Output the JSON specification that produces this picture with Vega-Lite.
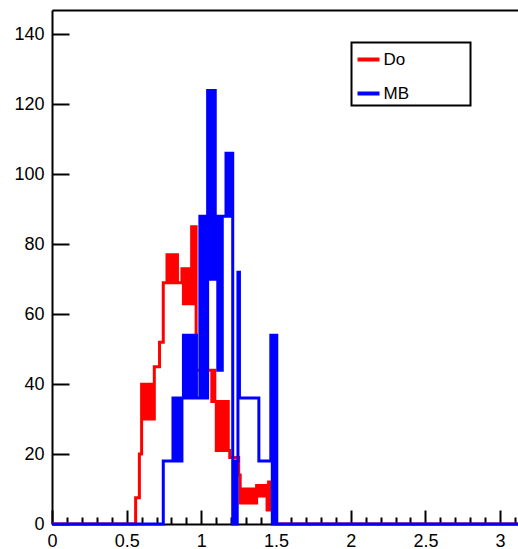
{
  "$schema": "https://vega.github.io/schema/vega-lite/v6.json",
  "width": 466,
  "height": 514,
  "autosize": {"type": "none"},
  "padding": {"left": 52, "top": 10, "right": 0, "bottom": 25},
  "background": "white",
  "view": {"stroke": null},
  "config": {
    "font": "Liberation Sans",
    "axis": {"labelFont": "Liberation Sans", "labelFontSize": 18, "labelColor": "black", "domainColor": "black", "domainWidth": 2, "tickColor": "black", "tickWidth": 2, "grid": false, "labelFlush": false, "labelOverlap": false},
    "legend": {"strokeColor": "black", "strokeWidth": 2, "fillColor": "white"}
  },
  "datasets": {
    "hist": [
      {"series": "Do", "x": 0, "y": 0}, {"series": "Do", "x": 0.56, "y": 7.5}, {"series": "Do", "x": 0.585, "y": 20},
      {"series": "Do", "x": 0.6, "y": 40}, {"series": "Do", "x": 0.61, "y": 30}, {"series": "Do", "x": 0.62, "y": 40}, {"series": "Do", "x": 0.63, "y": 30},
      {"series": "Do", "x": 0.64, "y": 40}, {"series": "Do", "x": 0.65, "y": 30}, {"series": "Do", "x": 0.66, "y": 40}, {"series": "Do", "x": 0.67, "y": 30},
      {"series": "Do", "x": 0.685, "y": 45}, {"series": "Do", "x": 0.72, "y": 52}, {"series": "Do", "x": 0.745, "y": 69},
      {"series": "Do", "x": 0.77, "y": 77}, {"series": "Do", "x": 0.78, "y": 69}, {"series": "Do", "x": 0.79, "y": 77}, {"series": "Do", "x": 0.8, "y": 69},
      {"series": "Do", "x": 0.81, "y": 77}, {"series": "Do", "x": 0.82, "y": 69}, {"series": "Do", "x": 0.83, "y": 77}, {"series": "Do", "x": 0.84, "y": 69},
      {"series": "Do", "x": 0.87, "y": 73}, {"series": "Do", "x": 0.88, "y": 63}, {"series": "Do", "x": 0.89, "y": 73}, {"series": "Do", "x": 0.9, "y": 63},
      {"series": "Do", "x": 0.91, "y": 73}, {"series": "Do", "x": 0.92, "y": 63}, {"series": "Do", "x": 0.93, "y": 73},
      {"series": "Do", "x": 0.935, "y": 85}, {"series": "Do", "x": 0.945, "y": 63}, {"series": "Do", "x": 0.955, "y": 85},
      {"series": "Do", "x": 0.965, "y": 44}, {"series": "Do", "x": 1.07, "y": 35}, {"series": "Do", "x": 1.08, "y": 44}, {"series": "Do", "x": 1.09, "y": 35},
      {"series": "Do", "x": 1.1, "y": 21}, {"series": "Do", "x": 1.11, "y": 35}, {"series": "Do", "x": 1.12, "y": 21}, {"series": "Do", "x": 1.13, "y": 35},
      {"series": "Do", "x": 1.14, "y": 21}, {"series": "Do", "x": 1.15, "y": 35}, {"series": "Do", "x": 1.16, "y": 21}, {"series": "Do", "x": 1.17, "y": 35},
      {"series": "Do", "x": 1.18, "y": 21}, {"series": "Do", "x": 1.19, "y": 19}, {"series": "Do", "x": 1.25, "y": 14},
      {"series": "Do", "x": 1.26, "y": 6}, {"series": "Do", "x": 1.27, "y": 10}, {"series": "Do", "x": 1.28, "y": 6}, {"series": "Do", "x": 1.29, "y": 10},
      {"series": "Do", "x": 1.3, "y": 6}, {"series": "Do", "x": 1.31, "y": 10}, {"series": "Do", "x": 1.32, "y": 6}, {"series": "Do", "x": 1.33, "y": 10},
      {"series": "Do", "x": 1.34, "y": 6}, {"series": "Do", "x": 1.35, "y": 10}, {"series": "Do", "x": 1.36, "y": 6},
      {"series": "Do", "x": 1.37, "y": 11}, {"series": "Do", "x": 1.38, "y": 8}, {"series": "Do", "x": 1.39, "y": 11}, {"series": "Do", "x": 1.4, "y": 8},
      {"series": "Do", "x": 1.41, "y": 11}, {"series": "Do", "x": 1.42, "y": 8}, {"series": "Do", "x": 1.43, "y": 11},
      {"series": "Do", "x": 1.44, "y": 4}, {"series": "Do", "x": 1.45, "y": 12}, {"series": "Do", "x": 1.46, "y": 4}, {"series": "Do", "x": 1.47, "y": 12},
      {"series": "Do", "x": 1.48, "y": 4}, {"series": "Do", "x": 1.49, "y": 12}, {"series": "Do", "x": 1.5, "y": 0}, {"series": "Do", "x": 3.12, "y": 0},

      {"series": "MB", "x": 0, "y": 0}, {"series": "MB", "x": 0.745, "y": 18},
      {"series": "MB", "x": 0.81, "y": 36}, {"series": "MB", "x": 0.82, "y": 18}, {"series": "MB", "x": 0.83, "y": 36}, {"series": "MB", "x": 0.84, "y": 18},
      {"series": "MB", "x": 0.85, "y": 36}, {"series": "MB", "x": 0.86, "y": 18}, {"series": "MB", "x": 0.87, "y": 36},
      {"series": "MB", "x": 0.88, "y": 54}, {"series": "MB", "x": 0.89, "y": 36}, {"series": "MB", "x": 0.9, "y": 54}, {"series": "MB", "x": 0.91, "y": 36},
      {"series": "MB", "x": 0.92, "y": 54}, {"series": "MB", "x": 0.93, "y": 36}, {"series": "MB", "x": 0.94, "y": 54}, {"series": "MB", "x": 0.95, "y": 36},
      {"series": "MB", "x": 0.96, "y": 54}, {"series": "MB", "x": 0.967, "y": 36},
      {"series": "MB", "x": 0.99, "y": 88}, {"series": "MB", "x": 1.0, "y": 36}, {"series": "MB", "x": 1.01, "y": 88}, {"series": "MB", "x": 1.02, "y": 36},
      {"series": "MB", "x": 1.03, "y": 88}, {"series": "MB", "x": 1.035, "y": 36},
      {"series": "MB", "x": 1.042, "y": 124}, {"series": "MB", "x": 1.052, "y": 70}, {"series": "MB", "x": 1.062, "y": 124}, {"series": "MB", "x": 1.072, "y": 70},
      {"series": "MB", "x": 1.082, "y": 124}, {"series": "MB", "x": 1.093, "y": 70},
      {"series": "MB", "x": 1.1, "y": 88}, {"series": "MB", "x": 1.11, "y": 44}, {"series": "MB", "x": 1.12, "y": 88}, {"series": "MB", "x": 1.13, "y": 44},
      {"series": "MB", "x": 1.14, "y": 88},
      {"series": "MB", "x": 1.165, "y": 106}, {"series": "MB", "x": 1.175, "y": 88}, {"series": "MB", "x": 1.185, "y": 106}, {"series": "MB", "x": 1.195, "y": 88},
      {"series": "MB", "x": 1.2, "y": 106},
      {"series": "MB", "x": 1.21, "y": 0}, {"series": "MB", "x": 1.22, "y": 18},
      {"series": "MB", "x": 1.23, "y": 0}, {"series": "MB", "x": 1.24, "y": 18}, {"series": "MB", "x": 1.245, "y": 72}, {"series": "MB", "x": 1.255, "y": 36},
      {"series": "MB", "x": 1.385, "y": 18},
      {"series": "MB", "x": 1.465, "y": 54}, {"series": "MB", "x": 1.475, "y": 0}, {"series": "MB", "x": 1.485, "y": 54}, {"series": "MB", "x": 1.495, "y": 0},
      {"series": "MB", "x": 1.5, "y": 54},
      {"series": "MB", "x": 1.505, "y": 0}, {"series": "MB", "x": 3.12, "y": 0}
    ]
  },
  "data": {"name": "hist"},
  "layer": [
    {
      "transform": [{"filter": "datum.series === 'Do'"}],
      "mark": {"type": "line", "interpolate": "step-after", "strokeWidth": 3, "clip": false},
      "encoding": {
        "x": {"field": "x", "type": "quantitative", "scale": {"domain": [0, 3.12], "nice": false, "zero": false},
          "axis": {"orient": "bottom", "title": null,
            "values": [0,0.1,0.2,0.3,0.4,0.5,0.6,0.7,0.8,0.9,1,1.1,1.2,1.3,1.4,1.5,1.6,1.7,1.8,1.9,2,2.1,2.2,2.3,2.4,2.5,2.6,2.7,2.8,2.9,3,3.1],
            "tickSize": {"condition": {"test": "abs(datum.value*2 - round(datum.value*2)) < 0.001", "value": -14}, "value": -7},
            "labelExpr": "abs(datum.value*2 - round(datum.value*2)) < 0.001 ? format(datum.value, '~g') : ''",
            "labelPadding": 22}},
        "y": {"field": "y", "type": "quantitative", "scale": {"domain": [0, 147], "nice": false},
          "axis": {"orient": "left", "title": null,
            "values": [0,5,10,15,20,25,30,35,40,45,50,55,60,65,70,75,80,85,90,95,100,105,110,115,120,125,130,135,140,145],
            "tickSize": {"condition": {"test": "datum.value % 20 === 0", "value": -17}, "value": -9},
            "labelExpr": "datum.value % 20 === 0 ? datum.label : ''",
            "labelPadding": 25}},
        "color": {"field": "series", "type": "nominal",
          "scale": {"domain": ["Do", "MB"], "range": ["#ff0000", "#0000ff"]},
          "legend": {"orient": "none", "legendX": 299.5, "legendY": 32.5, "title": "\u00a0",
            "titleOrient": "right", "titlePadding": 57, "titleFontSize": 17, "titleFont": "Liberation Sans",
            "symbolType": "stroke", "symbolStrokeWidth": 4, "symbolSize": 484,
            "labelFont": "Liberation Sans", "labelFontSize": 17, "labelColor": "black",
            "labelOffset": 2, "padding": 4, "rowPadding": 13}}
      }
    },
    {
      "transform": [{"filter": "datum.series === 'MB'"}],
      "mark": {"type": "line", "interpolate": "step-after", "strokeWidth": 3, "clip": false},
      "encoding": {
        "x": {"field": "x", "type": "quantitative", "scale": {"domain": [0, 3.12], "nice": false, "zero": false},
          "axis": {"orient": "top", "title": null, "labels": false, "ticks": false, "domain": true}},
        "y": {"field": "y", "type": "quantitative"},
        "color": {"field": "series", "type": "nominal"}
      }
    }
  ],
  "resolve": {"axis": {"x": "independent"}}
}
